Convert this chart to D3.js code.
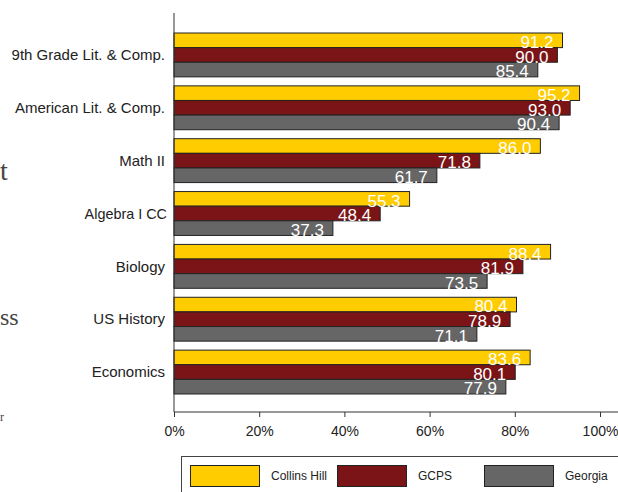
<!DOCTYPE html>
<html>
<head>
<meta charset="utf-8">
<script src="https://cdn.jsdelivr.net/npm/d3@7"></script>
<style>
	body { margin: 0; background: #fff; }
	svg { display: block; font-family: "Liberation Sans", Arial, sans-serif; }
	.text-cat { font-size: 15px; fill: #222; }
	.text-value { font-size: 17px; fill: #fff; }
	.text-tick { font-size: 14px; fill: #222; }
	.text-legend { font-size: 12px; fill: #222; }
	.stray { font-family: "Liberation Serif", serif; fill: #444; }
</style>
</head>
<body>
<script>
// - data -

var courses = ['9th Grade Lit. & Comp.', 'American Lit. & Comp.', 'Math II', 'Algebra I CC', 'Biology', 'US History', 'Economics'];
var seriesNames = ['Collins Hill', 'GCPS', 'Georgia'];
var collinsHill = [91.2, 95.2, 86.0, 55.3, 88.4, 80.4, 83.6];
var gcps = [90.0, 93.0, 71.8, 48.4, 81.9, 78.9, 80.1];
var georgia = [85.4, 90.4, 61.7, 37.3, 73.5, 71.1, 77.9];
var tickValues = [0, 20, 40, 60, 80, 100];

// - global -

var width = 618;
var height = 492;
var colors = ['#ffcc00', '#7b1416', '#666666'];

var svg = d3.select('body').append('svg')
	.attr('width', width)
	.attr('height', height);

var x = d3.scaleLinear().domain([0, 100]).range([174, 600]);
var y = d3.scaleBand().domain(courses).range([33, 394]).paddingInner(0.17);
var ySub = d3.scaleBand().domain(seriesNames).range([0, y.bandwidth()]);

var series = [collinsHill, gcps, georgia];

// bits of page text showing at the left edge
svg.append('text').attr('class', 'stray').attr('x', 0).attr('y', 180).style('font-size', '28px').text('t');
svg.append('text').attr('class', 'stray').attr('x', 0).attr('y', 325).style('font-size', '24px').text('ss');
svg.append('text').attr('class', 'stray').attr('x', 0).attr('y', 421).style('font-size', '12px').text('r');

// - bars -

var gGroups = svg.selectAll('.g-course')
	.data(courses).enter()
	.append('g')
		.attr('transform', function(d) { return 'translate(0,' + y(d) + ')'; });

seriesNames.forEach(function(name, s) {
	gGroups.append('rect')
		.attr('x', x(0))
		.attr('y', ySub(name))
		.attr('width', function(d, i) { return x(series[s][i]) - x(0); })
		.attr('height', ySub.bandwidth())
		.attr('fill', colors[s])
		.attr('stroke', '#222')
		.attr('stroke-width', 1);
});

seriesNames.forEach(function(name, s) {
	gGroups.append('text')
		.attr('class', 'text-value')
		.attr('text-anchor', 'end')
		.attr('x', function(d, i) { return x(series[s][i]) - 9; })
		.attr('y', ySub(name) + ySub.bandwidth() + 0.5)
		.text(function(d, i) { return series[s][i].toFixed(1); });
});

// category labels
gGroups.append('text')
	.attr('class', 'text-cat')
	.attr('text-anchor', 'end')
	.attr('x', function(d) { return d == 'Algebra I CC' ? 167 : 165; })
	.attr('y', y.bandwidth() / 2)
	.attr('dy', '0.35em')
	.style('font-size', function(d) { return d == 'Algebra I CC' ? '14.4px' : null; })
	.text(function(d) { return d; });

// - axes -

svg.append('line')
	.attr('x1', x(0)).attr('y1', 13)
	.attr('x2', x(0)).attr('y2', 412)
	.attr('stroke', '#333');

var xAxis = svg.append('g')
	.attr('transform', 'translate(0,412)')
	.call(d3.axisBottom(x).tickValues(tickValues).tickSize(5).tickFormat(function(d) { return d + '%'; }));

xAxis.select('.domain').attr('d', 'M' + x(0) + ',0H' + width).attr('stroke', '#333');
xAxis.selectAll('.tick line').attr('stroke', '#333');
xAxis.selectAll('.tick text')
	.attr('class', 'text-tick')
	.attr('y', 14)
	.attr('font-family', null)
	.attr('font-size', null)
	.attr('fill', null);

// - legend -

svg.append('rect')
	.attr('x', 181.5).attr('y', 456.5)
	.attr('width', 460).attr('height', 60)
	.attr('fill', 'none')
	.attr('stroke', '#444');

var legendX = d3.scalePoint().domain(seriesNames).range([190, 484]);

var gLegend = svg.selectAll('.g-legend')
	.data(seriesNames).enter()
	.append('g')
		.attr('transform', function(d) { return 'translate(' + legendX(d) + ',465)'; });

gLegend.append('rect')
	.attr('x', 0.5).attr('y', 0.5)
	.attr('width', 69).attr('height', 21)
	.attr('fill', function(d, i) { return colors[i]; })
	.attr('stroke', '#222');

gLegend.append('text')
	.attr('class', 'text-legend')
	.attr('x', 81)
	.attr('y', 11)
	.attr('dy', '0.35em')
	.text(function(d) { return d; });
</script>
</body>
</html>
